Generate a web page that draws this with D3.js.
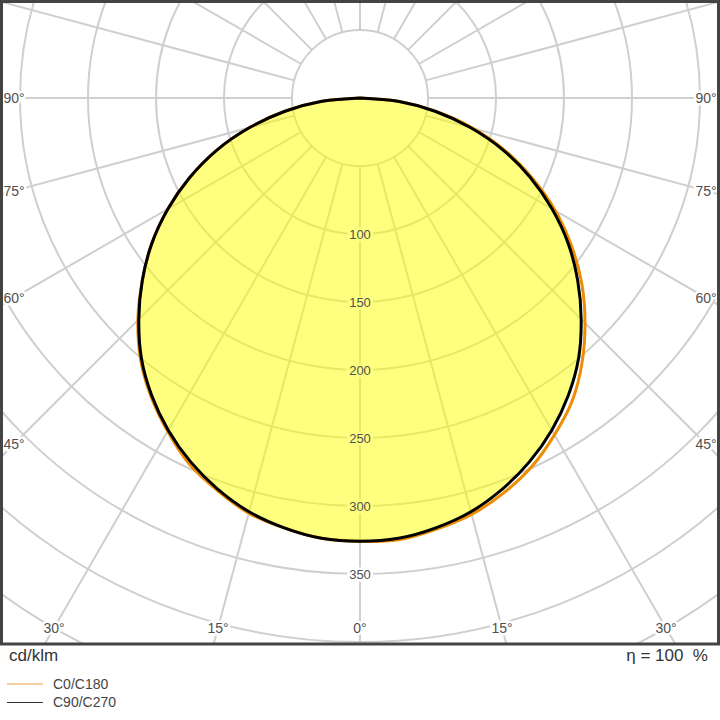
<!DOCTYPE html>
<html>
<head>
<meta charset="utf-8">
<script src="https://cdn.jsdelivr.net/npm/d3@7"></script>
<style>
  body { margin: 0; background: #fff; }
  text { font-family: "Liberation Sans", Arial, sans-serif; }
</style>
</head>
<body>
<div id="chart"></div>
<script>
// gamma angles (deg) for both half planes
var gammas = [0, 5, 10, 15, 20, 25, 30, 35, 40, 45, 50, 55, 60, 65, 70, 75, 80, 85, 90];
// cd/klm
var c0 =   [326, 326, 322, 317, 309, 299, 286, 272, 254, 234, 213, 190, 166, 140, 114, 86, 57, 29, 0];
var c180 = [326, 325, 321, 316, 307, 297, 283, 268, 251, 231, 209, 187, 163, 138, 112, 84, 56, 28, 0];
var c90 =  [326, 325, 321, 315, 306, 295, 282, 267, 250, 230, 209, 187, 163, 138, 112, 84, 56, 28, 0];
var c270 = [326, 325, 321, 315, 306, 295, 282, 267, 250, 230, 209, 187, 163, 138, 112, 84, 56, 28, 0];
var ringValues = [50, 100, 150, 200, 250, 300, 350, 400, 450, 500, 550, 600];
var ringLabels = [100, 150, 200, 250, 300, 350];
var bottomAngles = [0, 15, 30];
var sideAngles = [45, 60, 75, 90];
var spokeAngles = d3.range(0, 360, 15);

var width = 720, height = 720;
var cx = 360, cy = 98;
var frame = { left: 1.5, top: 1.5, right: 718.5, bottom: 644 };

var r = d3.scaleLinear().domain([0, 100]).range([0, 136]);
var rad = function (deg) { return deg * Math.PI / 180; };

var svg = d3.select("#chart").append("svg")
    .attr("width", width)
    .attr("height", height);

svg.append("defs").append("clipPath")
    .attr("id", "clip")
    .append("rect")
    .attr("x", frame.left).attr("y", frame.top)
    .attr("width", frame.right - frame.left)
    .attr("height", frame.bottom - frame.top);

var plot = svg.append("g").attr("clip-path", "url(#clip)");
var g = plot.append("g").attr("transform", "translate(" + cx + "," + cy + ")");

// rings
g.selectAll(".ring")
    .data(ringValues)
    .enter().append("circle")
    .attr("class", "ring")
    .attr("r", function (d) { return r(d); })
    .attr("fill", "none")
    .attr("stroke", "#cfcfcf")
    .attr("stroke-width", 2);

// spokes (0 deg points down)
g.selectAll(".spoke")
    .data(spokeAngles)
    .enter().append("line")
    .attr("class", "spoke")
    .attr("x1", function (d) { return r(50) * Math.sin(rad(d)); })
    .attr("y1", function (d) { return r(50) * Math.cos(rad(d)); })
    .attr("x2", function (d) { return r(700) * Math.sin(rad(d)); })
    .attr("y2", function (d) { return r(700) * Math.cos(rad(d)); })
    .attr("stroke", "#cfcfcf")
    .attr("stroke-width", 2);

// radius label halos (cut the grid), text itself goes over the fill
function rlabels(sel, cls, halo) {
    sel.selectAll("." + cls)
        .data(ringLabels)
        .enter().append("text")
        .attr("class", cls)
        .attr("x", 0)
        .attr("y", function (d) { return r(d); })
        .attr("dy", "0.35em")
        .attr("text-anchor", "middle")
        .attr("font-size", 13)
        .attr("fill", halo ? "#fff" : "#505050")
        .attr("stroke", halo ? "#fff" : "none")
        .attr("stroke-width", halo ? 5 : 0)
        .text(function (d) { return d; });
}
rlabels(g, "rhalo", true);

// angle labels along the bottom
var labelY = 628 - cy;
var bottomData = [];
bottomAngles.forEach(function (a) {
    bottomData.push({ a: a, s: -1 });
    if (a > 0) bottomData.push({ a: a, s: 1 });
});
g.selectAll(".blabel")
    .data(bottomData)
    .enter().append("text")
    .attr("class", "blabel")
    .attr("x", function (d) { return d.s * labelY * Math.tan(rad(d.a)); })
    .attr("y", labelY)
    .attr("dy", "0.35em")
    .attr("text-anchor", "middle")
    .attr("font-size", 14)
    .attr("fill", "#505050")
    .attr("stroke", "#fff")
    .attr("stroke-width", 5)
    .attr("paint-order", "stroke")
    .text(function (d) { return d.a + "\u00b0"; });

// angle labels along the sides
var labelX = cx - 14;
var sideData = [];
sideAngles.forEach(function (a) {
    sideData.push({ a: a, s: -1 });
    sideData.push({ a: a, s: 1 });
});
g.selectAll(".slabel")
    .data(sideData)
    .enter().append("text")
    .attr("class", "slabel")
    .attr("x", function (d) { return d.s * labelX; })
    .attr("y", function (d) { return labelX / Math.tan(rad(d.a)); })
    .attr("dy", "0.35em")
    .attr("text-anchor", "middle")
    .attr("font-size", 14)
    .attr("fill", "#505050")
    .attr("stroke", "#fff")
    .attr("stroke-width", 5)
    .attr("paint-order", "stroke")
    .text(function (d) { return d.a + "\u00b0"; });

// build one plane: left half then right half
function plane(left, right) {
    var pts = [];
    for (var i = gammas.length - 1; i >= 0; i--) pts.push([Math.PI + rad(gammas[i]), r(left[i])]);
    for (var j = 1; j < gammas.length; j++) pts.push([Math.PI - rad(gammas[j]), r(right[j])]);
    return pts;
}

var radial = d3.lineRadial()
    .angle(function (d) { return d[0]; })
    .radius(function (d) { return d[1]; })
    .curve(d3.curveCatmullRomClosed);

var planeA = plane(c180, c0);
var planeB = plane(c270, c90);

g.append("path")
    .attr("d", radial(planeB))
    .attr("fill", "#ffff00")
    .attr("fill-opacity", 0.5)
    .attr("stroke", "none");

rlabels(g, "rlabel", false);

g.append("path")
    .attr("d", radial(planeA))
    .attr("fill", "none")
    .attr("stroke", "#f08c00")
    .attr("stroke-width", 3);

g.append("path")
    .attr("d", radial(planeB))
    .attr("fill", "none")
    .attr("stroke", "#000")
    .attr("stroke-width", 3);

// frame
svg.append("rect")
    .attr("x", frame.left).attr("y", frame.top)
    .attr("width", frame.right - frame.left)
    .attr("height", frame.bottom - frame.top)
    .attr("fill", "none")
    .attr("stroke", "#444")
    .attr("stroke-width", 3);

svg.append("text")
    .attr("x", 9).attr("y", 661)
    .attr("font-size", 17)
    .attr("fill", "#333")
    .text("cd/klm");

svg.append("text")
    .attr("x", 708).attr("y", 661)
    .attr("text-anchor", "end")
    .attr("font-size", 17)
    .attr("fill", "#333")
    .text("\u03b7 = 100\u00a0 %");

// legend
var legend = [
    { name: "C0/C180", color: "#f0a040" },
    { name: "C90/C270", color: "#333" }
];
var lg = svg.selectAll(".legend")
    .data(legend)
    .enter().append("g")
    .attr("class", "legend")
    .attr("transform", function (d, i) { return "translate(7," + (684 + i * 18.5) + ")"; });
lg.append("line")
    .attr("x1", 0).attr("x2", 36)
    .attr("y1", 0).attr("y2", 0)
    .attr("stroke", function (d) { return d.color; })
    .attr("stroke-width", 1);
lg.append("text")
    .attr("x", 46).attr("y", 0)
    .attr("dy", "0.35em")
    .attr("font-size", 14)
    .attr("fill", "#444")
    .text(function (d) { return d.name; });
</script>
</body>
</html>
